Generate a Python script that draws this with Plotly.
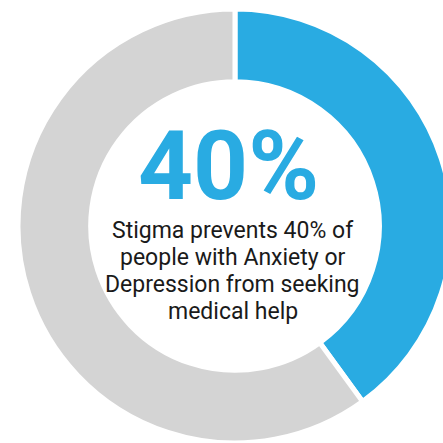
import plotly.graph_objects as go

labels = ["Prevented by stigma", "Others"]
values = [40, 60]
colors = ["#29ABE2", "#D4D4D4"]
headline = "40%"
caption_lines = ["Stigma prevents 40% of", "people with Anxiety or", "Depression from seeking", "medical help"]

W, H = 460, 443
cx, R = 235, 218
top = 9

fig = go.Figure(go.Pie(
    labels=labels, values=values, hole=0.665, sort=False, direction="clockwise",
    rotation=0, marker=dict(colors=colors, line=dict(color="white", width=5)),
    textinfo="none", hoverinfo="skip", showlegend=False,
    domain=dict(x=[(cx - R) / W, (cx + R) / W], y=[0, 1 - top / H]),
))

fig.add_annotation(text=f"<b>{headline}</b>", x=228 / W, y=1 - 166 / H, xref="paper", yref="paper",
                   showarrow=False, font=dict(family="Roboto", size=96, color=colors[0]),
                   xanchor="center", yanchor="middle", height=88, valign="middle")

line_y0, line_gap = 230, 27.3
for i, line in enumerate(caption_lines):
    fig.add_annotation(text=line, x=233 / W, y=1 - (line_y0 + i * line_gap) / H, xref="paper", yref="paper",
                       showarrow=False, font=dict(family="Roboto", size=23, color="#1a1a1a"),
                       xanchor="center", yanchor="middle", align="center")

fig.update_layout(width=W, height=H, margin=dict(l=0, r=0, t=0, b=0),
                  paper_bgcolor="white", plot_bgcolor="white")

fig.write_html("out.html", config={"displayModeBar": False},
               post_script="document.body.style.margin='0';document.body.style.overflow='hidden';")
